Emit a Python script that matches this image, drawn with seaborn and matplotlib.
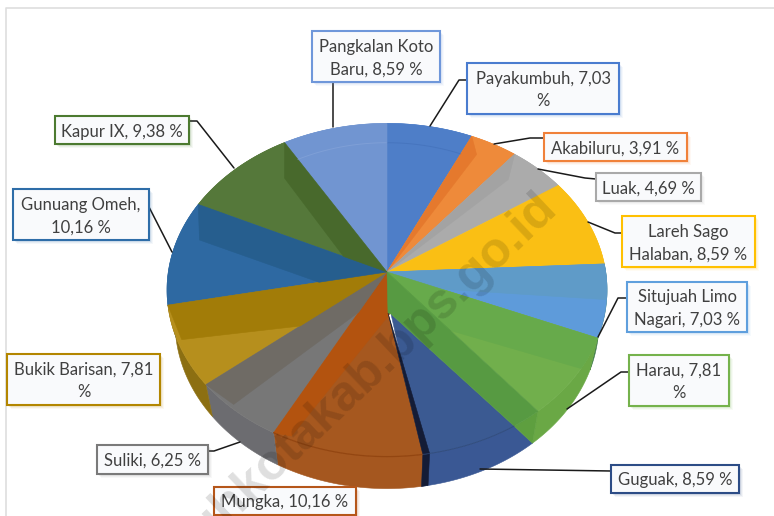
import numpy as np
import matplotlib
matplotlib.use("Agg")
import matplotlib.pyplot as plt
from matplotlib.patches import Rectangle
import seaborn as sns

sns.set_theme(style="white")
plt.rcParams['font.family'] = ['Lato', 'DejaVu Sans']

# data, clockwise from 12 o'clock
names = ["Payakumbuh", "Akabiluru", "Luak", "Lareh Sago\nHalaban", "Situjuah Limo\nNagari",
         "Harau", "Guguak", "Mungka", "Suliki", "Bukik Barisan", "Gunuang Omeh",
         "Kapur IX", "Pangkalan Koto\nBaru"]
shares = [7.03, 3.91, 4.69, 8.59, 7.03, 7.81, 8.59, 10.16, 6.25, 7.81, 10.16, 9.38, 8.59]
share_text = ["7,03\n%", "3,91 %", "4,69 %", "8,59 %", "7,03 %", "7,81\n%", "8,59 %",
              "10,16 %", "6,25 %", "7,81\n%", "10,16 %", "9,38 %", "8,59 %"]

face_colors = ["#4E7EC8", "#EE8A3A", "#ABABAB", "#FABF14", "#5E9BDA", "#71AF4C", "#3B5A92",
               "#A6581F", "#777777", "#B68F1D", "#2E69A2", "#55783A", "#7195D1"]
wall_colors = ["#4E7EC8", "#EE8A3A", "#ABABAB", "#FABF14", "#3F7A4A", "#6AA845", "#3A5894",
               "#A5571F", "#6C6C70", "#8C6F12", "#2E69A2", "#55783A", "#7195D1"]
border_colors = ["#4A7CCF", "#F0813A", "#A9A9A9", "#FFC000", "#5F9FDD", "#75B24C", "#2C4C86",
                 "#B5561A", "#7A7A7A", "#B38600", "#2E6DA8", "#4C7A30", "#6F97DA"]

# darker bevel on each slice: colour, side, width in %, radius reached, where it meets the other edge
bevels = {1: ("#E5792D", "start", 1.3, 0.9, 0.0),
          2: ("#A3A3A3", "start", 1.5, 0.85, 0.0),
          4: ("#5F9BC8", "start", 3.4, 1.0, 0.26),
          5: ("#67AA4B", "start", 3.0, 1.0, 0.42),
          7: ("#B3530F", "end", 1.2, 0.98, 0.2),
          8: ("#6F6B65", "end", 2.6, 0.98, 0.25),
          9: ("#A27C08", "end", 3.4, 0.98, 0.48),
          10: ("#265E8E", "end", 3.5, 0.9, 0.31),
          11: ("#48692C", "end", 2.4, 0.8, 0.23)}

# label box: left, top, right, bottom in pixels
boxes = [(467, 63, 619, 114), (544, 133, 687, 161), (596, 173, 701, 201), (622, 216, 755, 267),
         (627, 282, 747, 332), (629, 355, 729, 406), (611, 465, 739, 493), (214, 487, 356, 515),
         (97, 445, 208, 474), (7, 354, 160, 405), (13, 189, 149, 240), (55, 116, 189, 144),
         (312, 31, 440, 82)]
leaders = [[(467, 80), (459, 80), (430, 126)], [(544, 138), (530, 138), (494, 144)],
           [(596, 179), (585, 178), (538, 169)], [(622, 233), (615, 233), (588, 222)],
           [(627, 298), (618, 298), (598, 337)], [(629, 372), (621, 372), (567, 409)],
           [(611, 471), (480, 469)], None, [(208, 451), (214, 451), (240, 442)], None,
           [(149, 207), (172, 252)], [(189, 121), (197, 121), (234, 168)], [(333, 82), (333, 127)]]

cx, top_cy, base_cy = 387, 290, 322
top_rx, base_rx, ry = 220, 212, 166.6
apex = np.array([387.0, 272.0])
tilt = (top_cy - apex[1]) / ry
knee = np.array([388.0, 313.0])
knee2 = np.array([391.0, 314.0])


def rim(p0, p1, rx=top_rx, cy=top_cy, n=40):
    # ray from the raised apex out to the ellipse, p0 and p1 in percent
    th = np.radians(np.linspace(p0, p1, n) * 3.6)
    s = -tilt * np.cos(th) + np.sqrt((tilt * np.cos(th)) ** 2 + 1 - tilt ** 2)
    return np.column_stack([cx + rx * s * np.sin(th), cy - ry * (tilt + s * np.cos(th))])


def fill(ax, pts, color, z=2):
    pts = np.asarray(pts)
    ax.fill(pts[:, 0], pts[:, 1], color=color, lw=0.4, zorder=z)


def wall(ax, p0, p1, color, base0=None):
    base0 = p0 if base0 is None else base0
    fill(ax, np.vstack([rim(p0, p1), rim(base0, p1, base_rx, base_cy)[::-1]]), color, 1)


fig = plt.figure(figsize=(7.74, 5.16), dpi=100)
ax = fig.add_axes([0, 0, 1, 1])
ax.set_xlim(0, 774)
ax.set_ylim(516, 0)
ax.axis("off")

# chart frame
ax.plot([5.5, 5.5, 774], [516, 8, 8], color="#DEDEDE", lw=1.2, zorder=0)

cum = np.concatenate([[0], np.cumsum(shares)])
guguak, mungka = 6, 7
green_end = cum[guguak] + 2.05
black_start = cum[guguak + 1] - 0.45

# side walls
for i in range(len(shares)):
    if i == guguak:
        wall(ax, green_end, cum[i + 1], wall_colors[i], base0=cum[i])
    else:
        wall(ax, cum[i], cum[i + 1], wall_colors[i])
fill(ax, np.vstack([rim(cum[guguak], green_end), rim(cum[guguak], cum[guguak], base_rx, base_cy, n=1)]),
     "#5E9F3F", 1)
wall(ax, black_start, cum[guguak + 1], "#141C36")

# top faces
for i in range(len(shares)):
    edge = rim(cum[i], cum[i + 1])
    if i == guguak:
        fill(ax, np.vstack([[knee2], rim(green_end, cum[i + 1])]), face_colors[i], 2)
    elif i == mungka:
        fill(ax, np.vstack([[apex, knee], edge]), face_colors[i], 2)
    else:
        fill(ax, np.vstack([[apex], edge]), face_colors[i], 2)
    if i in bevels:
        color, side, width, reach, tip = bevels[i]
        if side == "start":
            a, b, other = cum[i], cum[i] + width, cum[i + 1]
        else:
            a, b, other = cum[i + 1], cum[i + 1] - width, cum[i]
        meet = apex + tip * (rim(other, other, n=1)[0] - apex)
        if reach == 1.0:
            fill(ax, np.vstack([[apex], rim(a, b), [meet]]), color, 3)
        else:
            inner = apex + reach * (rim(b, b, n=1)[0] - apex)
            fill(ax, [apex, rim(a, a, n=1)[0], inner, meet], color, 3)

fill(ax, np.vstack([[apex], rim(cum[guguak], green_end), [knee2, knee]]), "#579A42", 3)
fill(ax, [knee, rim(black_start, black_start, n=1)[0], rim(cum[mungka], cum[mungka], n=1)[0]], "#141C36", 3)

# bevel line round the front of the pie
front = rim(cum[mungka], cum[mungka + 1])
ax.plot(front[:, 0], front[:, 1], color="#8E400C", lw=0.9, alpha=0.8, zorder=3)
front = rim(green_end, cum[mungka])
ax.plot(front[:, 0], front[:, 1], color="#2C4674", lw=0.7, alpha=0.7, zorder=3)
# faint inner ring on the back slices
ring = apex + 0.87 * (rim(cum[0], cum[1]) - apex)
ax.plot(ring[:, 0], ring[:, 1], color="#3F6CB5", lw=0.7, alpha=0.5, zorder=3)
ring = apex + 0.87 * (rim(cum[-2], cum[-1]) - apex)
ax.plot(ring[:, 0], ring[:, 1], color="#88A6DA", lw=0.7, alpha=0.6, zorder=3)

# leader lines
for pts in leaders:
    if pts is None:
        continue
    pts = np.array(pts)
    ax.plot(pts[:, 0], pts[:, 1], color="#1A1A1A", lw=1.1, zorder=4)

# labels
for i, (l, t, r, b) in enumerate(boxes):
    for off, a in [(5, 0.05), (4, 0.07), (3, 0.1)]:
        ax.add_patch(Rectangle((l + off - 1, t + off - 1), r - l, b - t, fc=border_colors[i],
                               ec="none", alpha=a, zorder=5))
    ax.add_patch(Rectangle((l, t), r - l, b - t, fc="#F9FAFC", ec=border_colors[i], lw=1.5, zorder=6))
    name = names[i]
    val = share_text[i]
    if name == "Gunuang Omeh":
        txt = name + ",\n" + val
    else:
        txt = name + ", " + val
    ax.text((l + r) / 2, (t + b) / 2 + 1.5, txt, ha="center", va="center", fontsize=12, color="#404040",
            linespacing=1.5, zorder=7)

# site watermark
ax.text(558, 210, "limapuluhkotakab.bps.go.id", rotation=43.5, rotation_mode="anchor", ha="right",
        va="baseline", fontsize=36, fontweight="bold", family="Liberation Sans", color="#000000",
        alpha=0.13, zorder=8, clip_on=True)

fig.savefig("out.png", dpi=100)
